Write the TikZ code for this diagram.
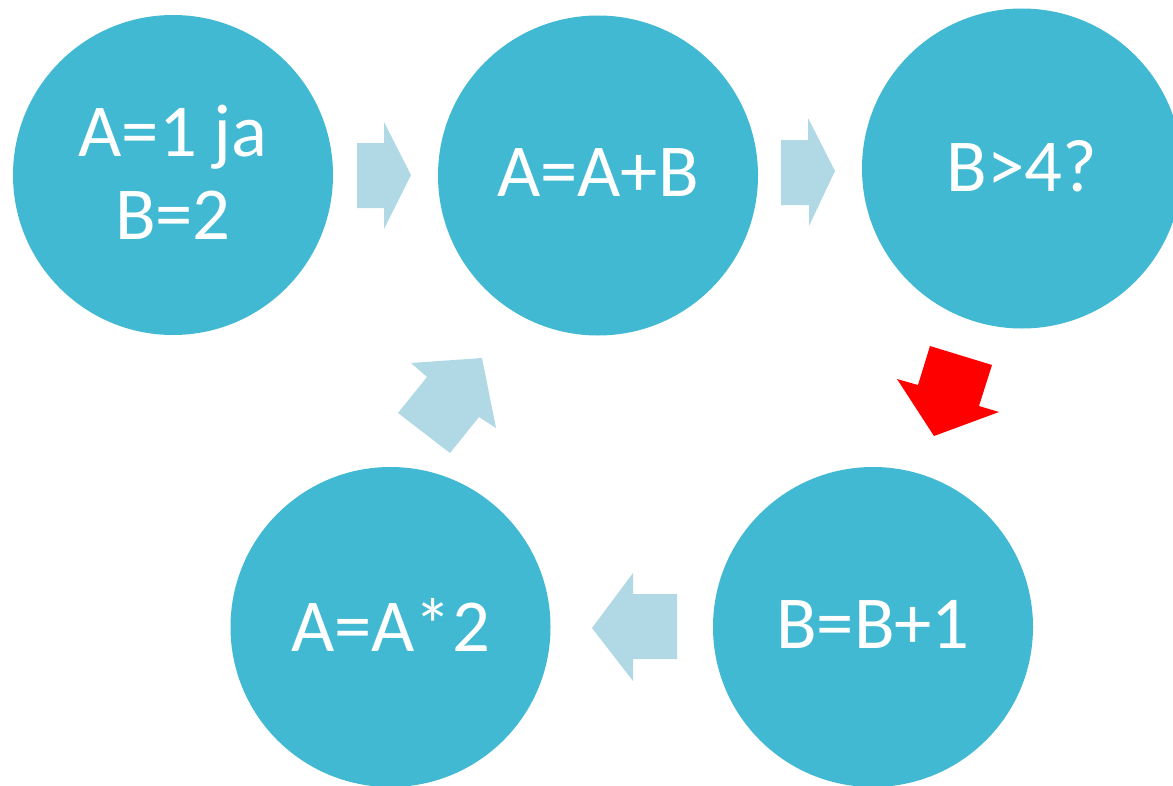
\documentclass[tikz,border=0pt]{standalone}
\usepackage{fontspec}
\setmainfont{Carlito}
\definecolor{circ}{RGB}{66,185,211}
\definecolor{flow}{RGB}{176,217,229}
\definecolor{alert}{RGB}{255,0,0}
\tikzset{
  stepcircle/.style={circle, fill=circ, draw=none, minimum size=320bp, inner sep=0pt,
    text=white, align=center, font=\fontsize{75}{83}\selectfont, text depth=5bp},
  flowarrow/.style={fill=flow, draw=none},
  alertarrow/.style={fill=alert, draw=none}
}
\begin{document}
\begin{tikzpicture}[x=1bp,y=-1bp]
\useasboundingbox (0,0) rectangle (1173,786);
\clip (0,0) rectangle (1173,786);
\node[stepcircle] (init) at (173,175) {A=1 ja\\B=2};
\node[stepcircle] (add)  at (598,175.5) {A=A+B};
\node[stepcircle] (test) at (1022,168.5) {B>4?};
\node[stepcircle] (inc)  at (873,627) {B=B+1};
\node[stepcircle] (dbl)  at (390.5,627) {A=A*2};
% block arrows
\fill[flowarrow] (357,143) -- (384,143) -- (384,122) -- (411,175) -- (384,229) -- (384,208) -- (357,208) -- cycle;
\fill[flowarrow] (781,140) -- (808,140) -- (808,118) -- (835,171) -- (809,226) -- (809,205) -- (781,205) -- cycle;
\fill[alertarrow] (930,346) -- (992,365) -- (979,406) -- (999,412) -- (934,436) -- (897,379) -- (918,385) -- cycle;
\fill[flowarrow] (677,594) -- (633,594) -- (633,573) -- (592,628) -- (633,681) -- (633,659) -- (677,659) -- cycle;
\fill[flowarrow] (398,413) -- (427,377) -- (411,363) -- (482,358) -- (496,428) -- (479,417) -- (450,453) -- cycle;
\end{tikzpicture}
\end{document}
